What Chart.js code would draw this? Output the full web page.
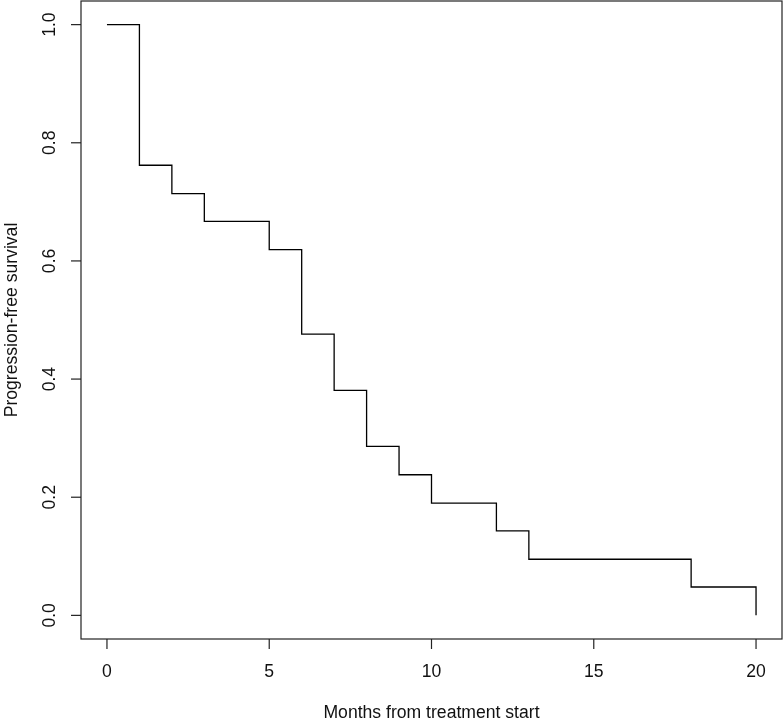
<!DOCTYPE html>
<html lang="en">
<head>
    <meta charset="UTF-8">
    <title>Progression-free survival</title>
    <script src="https://cdn.jsdelivr.net/npm/chart.js@4.4.0/dist/chart.umd.min.js"></script>
    <style>
        html, body { margin: 0; padding: 0; background: #fff; }
        #wrap { width: 784px; height: 721px; }
    </style>
</head>
<body>
    <div id="wrap"><canvas id="chrt"></canvas></div>
    <script>
        // Kaplan-Meier steps
        const months = [0, 1, 2, 3, 5, 6, 7, 8, 9, 10, 12, 13, 18, 20]
        const survival = [1.000, 0.762, 0.714, 0.667, 0.619, 0.476, 0.381, 0.286, 0.238, 0.190, 0.143, 0.095, 0.048, 0.000]
        const xTicks = [0, 5, 10, 15, 20]
        const yTicks = [0.0, 0.2, 0.4, 0.6, 0.8, 1.0]
        const xTitle = 'Months from treatment start'
        const yTitle = 'Progression-free survival'

        const font = '17.6px "Liberation Sans", Arial, sans-serif'

        // R style box, outward ticks, rotated y labels
        const rAxes = {
            id: 'rAxes',
            afterDraw(chart) {
                const ctx = chart.ctx
                const a = chart.chartArea
                const xs = chart.scales.x
                const ys = chart.scales.y
                ctx.save()
                ctx.strokeStyle = '#222'
                ctx.lineWidth = 1.2
                ctx.strokeRect(a.left, a.top, a.right - a.left, a.bottom - a.top)

                ctx.fillStyle = '#111'
                ctx.font = font
                ctx.textAlign = 'center'
                ctx.textBaseline = 'middle'
                xTicks.forEach(v => {
                    const px = xs.getPixelForValue(v)
                    ctx.beginPath()
                    ctx.moveTo(px, a.bottom)
                    ctx.lineTo(px, a.bottom + 10)
                    ctx.stroke()
                    ctx.fillText(String(v), px, a.bottom + 33)
                })
                yTicks.forEach(v => {
                    const py = ys.getPixelForValue(v)
                    ctx.beginPath()
                    ctx.moveTo(a.left, py)
                    ctx.lineTo(a.left - 10, py)
                    ctx.stroke()
                    ctx.save()
                    ctx.translate(a.left - 31, py)
                    ctx.rotate(-Math.PI / 2)
                    ctx.fillText(v.toFixed(1), 0, 0)
                    ctx.restore()
                })
                ctx.fillText(xTitle, (a.left + a.right) / 2, a.bottom + 74)
                ctx.save()
                ctx.translate(12, (a.top + a.bottom) / 2)
                ctx.rotate(-Math.PI / 2)
                ctx.fillText(yTitle, 0, 0)
                ctx.restore()
                ctx.restore()
            }
        }

        new Chart(document.getElementById('chrt'), {
            type: 'line',
            data: {
                datasets: [{
                    data: months.map((m, i) => ({ x: m, y: survival[i] })),
                    stepped: true,
                    borderColor: '#000',
                    borderWidth: 1.3,
                    pointRadius: 0,
                    fill: false
                }]
            },
            options: {
                responsive: true,
                maintainAspectRatio: false,
                animation: false,
                layout: { padding: { left: 81, top: 1, right: 2, bottom: 82 } },
                plugins: { legend: { display: false }, tooltip: { enabled: false } },
                scales: {
                    x: { type: 'linear', min: -0.8, max: 20.8, display: false },
                    y: { type: 'linear', min: -0.04, max: 1.04, display: false }
                }
            },
            plugins: [rAxes]
        })
    </script>
</body>
</html>
